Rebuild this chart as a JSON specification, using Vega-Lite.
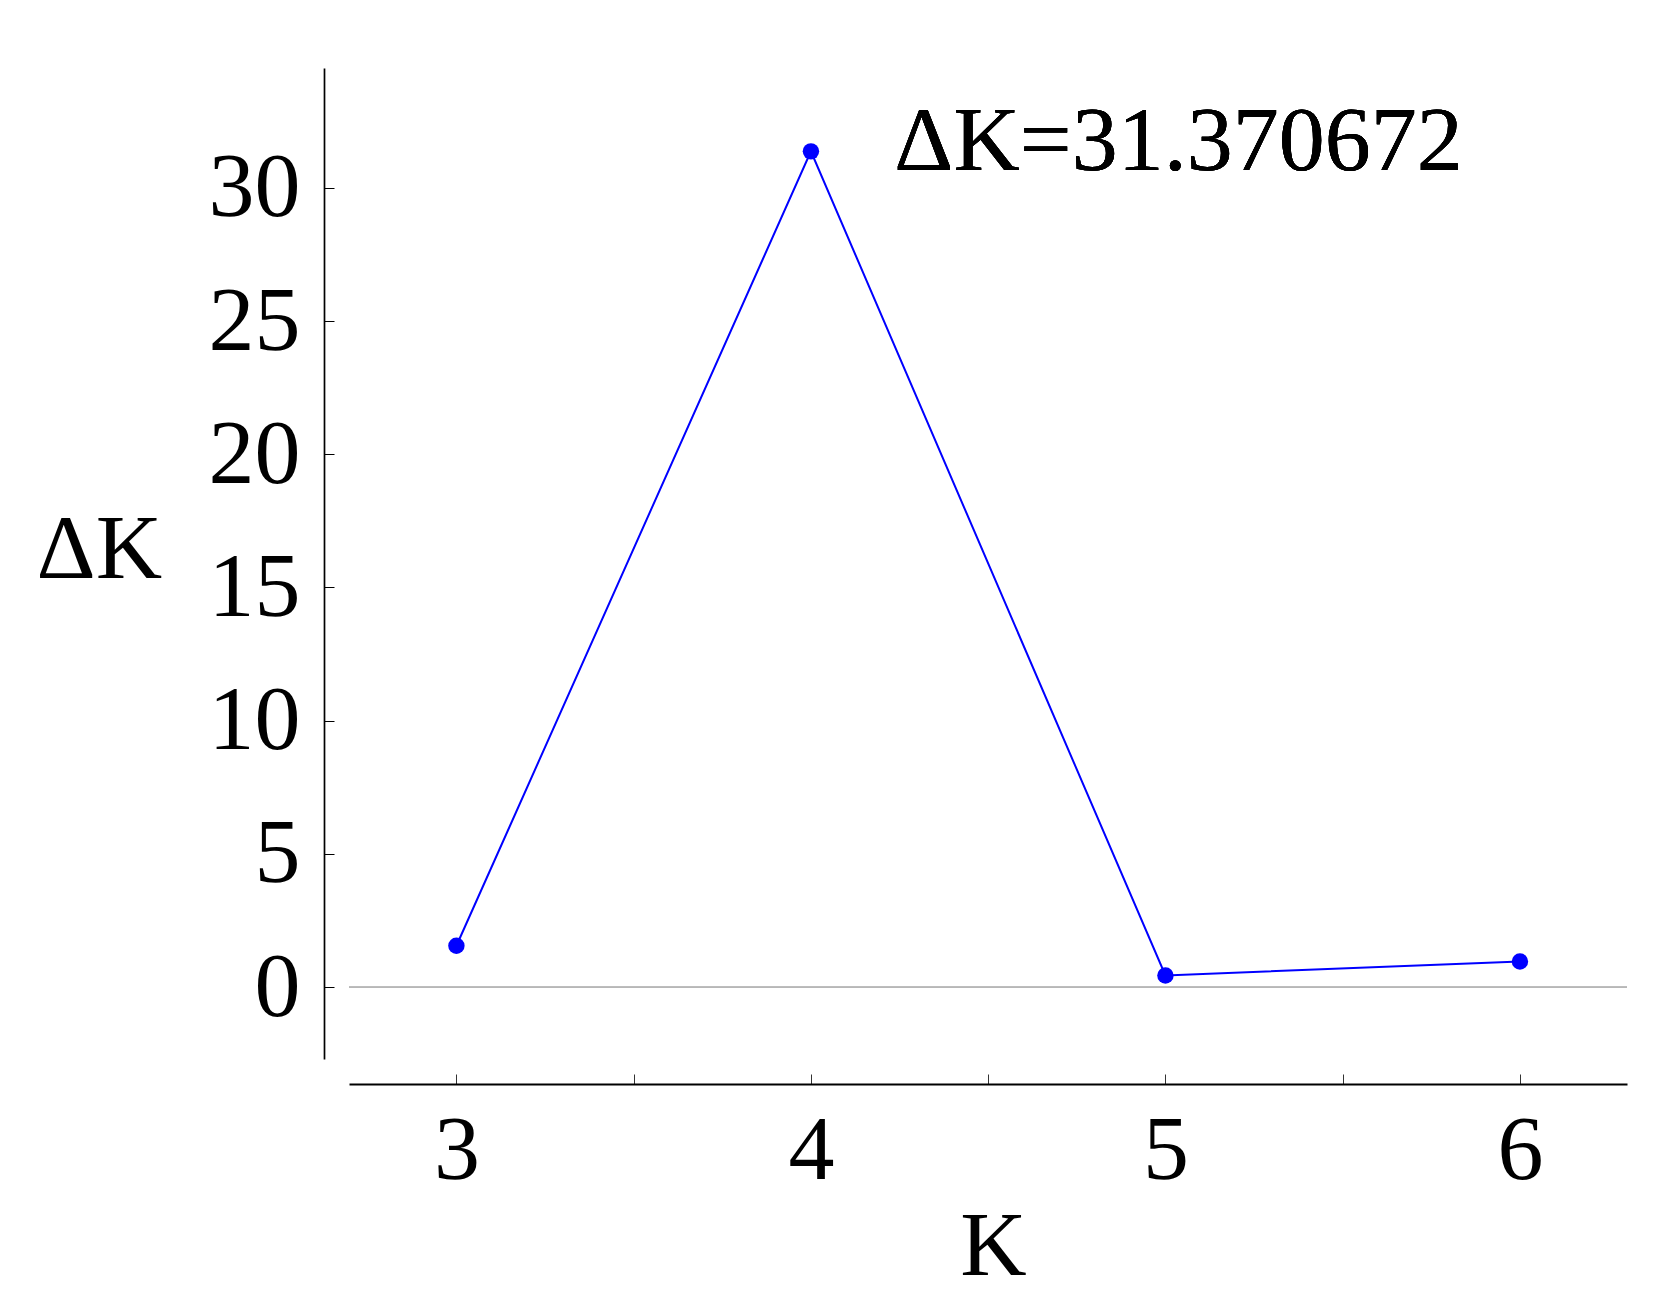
{
  "$schema": "https://vega.github.io/schema/vega-lite/v6.json",
  "autosize": "none",
  "padding": {"left": 349, "top": 68, "right": 48, "bottom": 251},
  "width": 1278,
  "height": 991,
  "background": "white",
  "config": {
    "view": {"stroke": null},
    "font": "Liberation Serif",
    "axis": {"labelFont": "Liberation Serif", "titleFont": "Liberation Serif", "labelColor": "black", "titleColor": "black", "titleFontWeight": "normal", "grid": false}
  },
  "data": {"values": [
    {"K": 3, "dK": 1.55},
    {"K": 4, "dK": 31.370672},
    {"K": 5, "dK": 0.435},
    {"K": 6, "dK": 0.96}
  ]},
  "layer": [
    {
      "mark": {"type": "rule", "color": "#b5b5b5", "strokeWidth": 1},
      "encoding": {"y": {"datum": 0, "type": "quantitative", "scale": {"domain": [-2.7, 34.5], "nice": false, "zero": false}}}
    },
    {
      "mark": {"type": "line", "color": "#0000ff", "strokeWidth": 2},
      "encoding": {
        "x": {"field": "K", "type": "quantitative",
          "scale": {"domain": [2.697, 6.302], "nice": false, "zero": false},
          "axis": {"title": "K", "orient": "bottom", "offset": 25,
            "values": [3, 3.5, 4, 4.5, 5, 5.5, 6],
            "labelExpr": "datum.value % 1 === 0 ? format(datum.value, 'd') : ''",
            "labelFontSize": 92, "labelPadding": 31, "labelBaseline": "top",
            "tickSize": -10, "tickColor": "#333333", "tickWidth": 1,
            "domainColor": "black", "domainWidth": 2.2,
            "titleFontSize": 92, "titleAngle": 0, "titleAlign": "center", "titleBaseline": "alphabetic",
            "titleX": 644, "titleY": 190}},
        "y": {"field": "dK", "type": "quantitative",
          "scale": {"domain": [-2.7, 34.5], "nice": false, "zero": false},
          "axis": {"title": "ΔK", "orient": "left", "offset": 25,
            "values": [0, 5, 10, 15, 20, 25, 30],
            "labelFontSize": 92, "labelPadding": 34,
            "tickSize": -10, "tickColor": "black", "tickWidth": 1,
            "domainColor": "black", "domainWidth": 1.7,
            "titleFontSize": 92, "titleAngle": 0, "titleAlign": "left", "titleBaseline": "alphabetic",
            "titleX": -288, "titleY": 509}}
      }
    },
    {
      "mark": {"type": "point", "filled": true, "color": "#0000ff", "opacity": 1, "size": 270},
      "encoding": {
        "x": {"field": "K", "type": "quantitative"},
        "y": {"field": "dK", "type": "quantitative"}
      }
    },
    {
      "mark": {"type": "text", "text": "ΔK=31.370672", "font": "Liberation Serif", "fontSize": 92, "align": "left", "baseline": "alphabetic", "color": "black"},
      "encoding": {
        "x": {"datum": 4.235, "type": "quantitative"},
        "y": {"datum": 30.66, "type": "quantitative"}
      }
    }
  ]
}
